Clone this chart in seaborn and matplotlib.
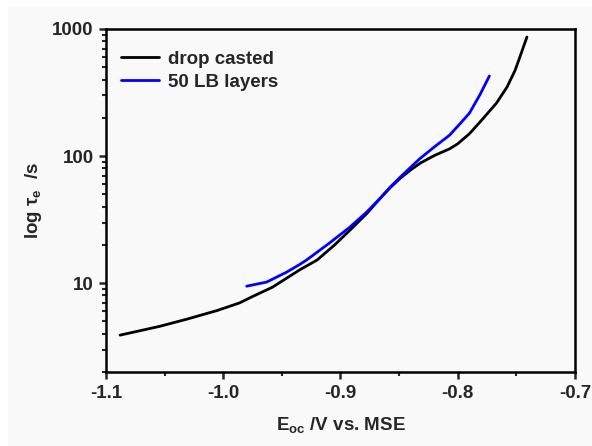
import numpy as np
import pandas as pd
import matplotlib
matplotlib.use("Agg")
import matplotlib.pyplot as plt
import seaborn as sns
from matplotlib.patches import Rectangle
from matplotlib.ticker import LogLocator, NullFormatter, MultipleLocator

# Data
drop_x = [-1.088, -1.054, -1.031, -1.005, -0.986, -0.975, -0.958, -0.935, -0.920, -0.905,
          -0.892, -0.878, -0.866, -0.858, -0.849, -0.840, -0.832, -0.820, -0.807,
          -0.800, -0.790, -0.780, -0.767, -0.758, -0.751, -0.746, -0.741]
drop_y = [3.90, 4.58, 5.21, 6.1, 7.0, 7.85, 9.3, 12.7, 15.2, 20.0,
          26.1, 35.0, 46.7, 56.0, 67.0, 78.0, 88.0, 101, 114,
          125, 150, 190, 261, 349, 475, 640, 865]
lb_x = [-0.980, -0.963, -0.946, -0.935, -0.929, -0.910, -0.892, -0.878, -0.866,
        -0.858, -0.849, -0.840, -0.832, -0.820, -0.807, -0.798, -0.790, -0.781, -0.773]
lb_y = [9.47, 10.2, 12.2, 14.0, 15.2, 20.5, 27.6, 36.0, 46.7,
        56.5, 68.3, 82.0, 96.0, 118, 146, 180, 218, 305, 427]
series_names = ["drop casted", "50 LB layers"]
series_colors = ["#000000", "#0000ff"]

df = pd.concat([
    pd.DataFrame({"x": drop_x, "y": drop_y, "series": series_names[0]}),
    pd.DataFrame({"x": lb_x, "y": lb_y, "series": series_names[1]}),
], ignore_index=True)

sns.set_style("ticks")
plt.rcParams["font.family"] = ["Liberation Sans", "DejaVu Sans"]
plt.rcParams["font.weight"] = "bold"
plt.rcParams["mathtext.fontset"] = "custom"
plt.rcParams["mathtext.rm"] = "Liberation Sans:bold"
plt.rcParams["mathtext.it"] = "Liberation Sans:bold"
plt.rcParams["mathtext.bf"] = "Liberation Sans:bold"
plt.rcParams["mathtext.default"] = "rm"

W, H = 592, 446
fig = plt.figure(figsize=(W / 100, H / 100), dpi=100, facecolor="white")
fig.patches.append(Rectangle((8 / W, 0), 1 - 8 / W, 1 - 7 / H, transform=fig.transFigure,
                             facecolor="#f9f9f9", edgecolor="none", zorder=-10))
ax = fig.add_axes([106 / W, 1 - 372 / H, (575 - 106) / W, (372 - 29) / H])
ax.set_facecolor("#f9f9f9")

sns.lineplot(data=df, x="x", y="y", hue="series", palette=series_colors,
             hue_order=series_names, linewidth=2.0, ax=ax, sort=False, estimator=None)

ax.set_yscale("log")
ax.set_xlim(-1.1, -0.7)
ax.set_ylim(2, 1000)
ax.xaxis.set_major_locator(MultipleLocator(0.1))
ax.xaxis.set_minor_locator(MultipleLocator(0.05))
ax.xaxis.set_major_formatter(matplotlib.ticker.FuncFormatter(lambda v, p: f"{v:.1f}"))
ax.yaxis.set_major_locator(LogLocator(base=10, numticks=10))
ax.yaxis.set_minor_locator(LogLocator(base=10, subs=np.arange(2, 10), numticks=20))
ax.yaxis.set_minor_formatter(NullFormatter())
ax.yaxis.set_major_formatter(matplotlib.ticker.FuncFormatter(lambda v, p: f"{int(round(v))}"))

for s in ax.spines.values():
    s.set_linewidth(1.8)
    s.set_color("black")
ax.tick_params(axis="both", which="major", direction="out", length=5, width=1.8,
               labelsize=13.5, pad=4, top=False, right=False)
ax.tick_params(axis="both", which="minor", direction="out", length=3, width=1.5,
               top=False, right=False)
for lab in ax.get_xticklabels() + ax.get_yticklabels():
    lab.set_fontweight("bold")

ax.set_xlabel(r"E$_{oc}$ /V vs. MSE", fontsize=13.5, fontweight="bold", labelpad=10)
ax.set_ylabel("log τ$_{e}$  /s", fontsize=13.5, fontweight="bold", labelpad=6)

leg = ax.legend(loc="upper left", frameon=False, fontsize=13.5, handlelength=2.0,
                handletextpad=0.5, borderaxespad=0.4, labelspacing=0.3,
                bbox_to_anchor=(0.0, 0.98))
for t in leg.get_texts():
    t.set_fontweight("bold")

fig.savefig("out.png", dpi=100, facecolor=fig.get_facecolor())
